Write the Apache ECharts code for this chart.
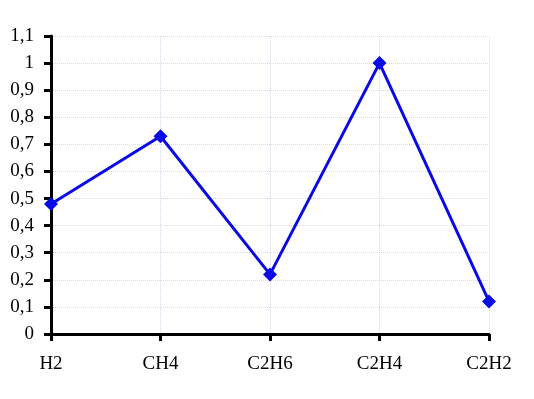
<!DOCTYPE html>
<html>
<head>
<meta charset="utf-8">
<script src="https://cdn.jsdelivr.net/npm/echarts@6/dist/echarts.min.js"></script>
<style>
  html, body { margin: 0; padding: 0; background: #fff; }
  #chart { width: 534px; height: 399px; }
</style>
</head>
<body>
<div id="chart"></div>
<script>
const categories = ['H2', 'CH4', 'C2H6', 'C2H4', 'C2H2'];
const values = [0.48, 0.73, 0.22, 1.0, 0.12];

const chart = echarts.init(document.getElementById('chart'), null, { renderer: 'canvas' });
const font = '"Liberation Serif", "DejaVu Serif", serif';

chart.setOption({
  animation: false,
  grid: { left: 51, right: 45, top: 36, bottom: 65, containLabel: false },
  xAxis: {
    type: 'category',
    data: categories,
    boundaryGap: false,
    axisLine: { lineStyle: { color: '#000', width: 3 } },
    axisTick: { show: true, length: 7, lineStyle: { color: '#000', width: 3 } },
    axisLabel: { color: '#000', fontFamily: font, fontSize: 19, margin: 21 },
    splitLine: { show: true, lineStyle: { color: '#d4d8ee', type: 'dotted', width: 1 } }
  },
  yAxis: {
    type: 'value',
    min: 0,
    max: 1.1,
    interval: 0.1,
    axisLine: { show: true, lineStyle: { color: '#000', width: 3 } },
    axisTick: { show: true, length: 7, lineStyle: { color: '#000', width: 3 } },
    axisLabel: {
      color: '#000', fontFamily: font, fontSize: 19, margin: 17,
      formatter: v => String(Math.round(v * 10) / 10).replace('.', ',')
    },
    splitLine: { show: true, lineStyle: { color: '#d4d8ee', type: 'dotted', width: 1 } }
  },
  series: [{
    type: 'line',
    data: values,
    symbol: 'diamond',
    symbolSize: 14,
    lineStyle: { color: '#0a0ae6', width: 3 },
    itemStyle: { color: '#0a0ae6' }
  }]
});
</script>
</body>
</html>
